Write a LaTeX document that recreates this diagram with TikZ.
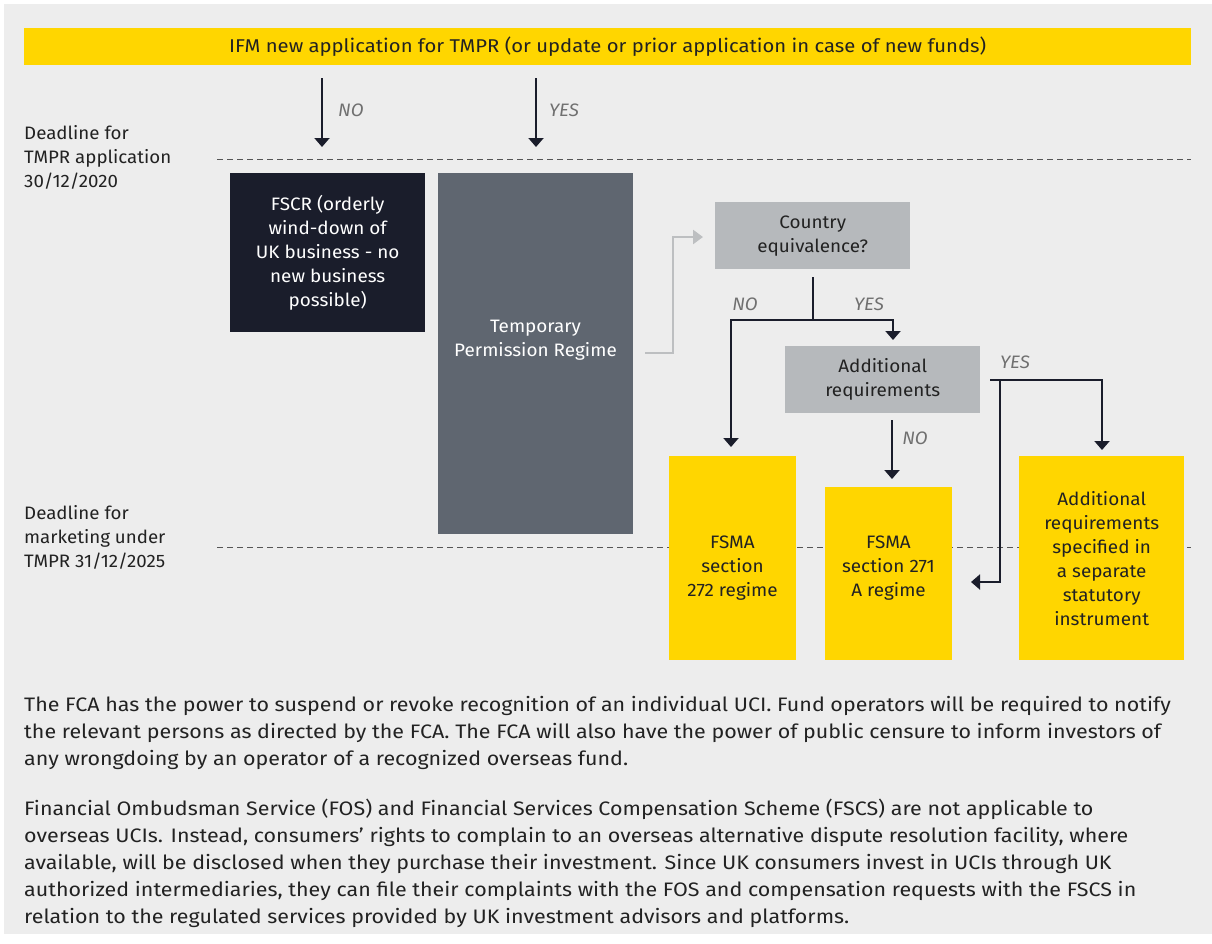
\documentclass[tikz,border=0pt]{standalone}
\usepackage{fontspec}
\setmainfont[FakeStretch=1.04]{Fira Sans}
\newfontfamily\parafont[FakeStretch=1.10]{Fira Sans}
\newfontfamily\topfont[FakeStretch=1.095]{Fira Sans}
\newfontfamily\boxfont[FakeStretch=1.05]{Fira Sans}
\usetikzlibrary{arrows.meta}
\definecolor{bgc}{HTML}{EDEDED}
\definecolor{eyyellow}{HTML}{FFD600}
\definecolor{navy}{HTML}{1A1D2B}
\definecolor{slate}{HTML}{5F6670}
\definecolor{lgray}{HTML}{B6B9BC}
\definecolor{conn}{HTML}{BDBFC1}
\definecolor{lbl}{HTML}{707070}
\definecolor{txt}{HTML}{222222}
\definecolor{dashc}{HTML}{555555}
\tikzset{
  box/.style={anchor=north west, inner sep=0pt, align=center, text=txt,
    font=\boxfont\fontsize{18}{24}\selectfont},
  btxt/.style={align=center, inner sep=0pt, font=\boxfont\fontsize{18}{24}\selectfont},
  arr/.style={draw=navy, line width=2pt, -{Triangle[length=9pt,width=15pt]}},
  garr/.style={draw=conn, line width=2.5pt, -{Triangle[length=10pt,width=14pt]}},
  ln/.style={draw=navy, line width=2pt},
  yn/.style={text=lbl, font=\fontsize{18}{22}\itshape\selectfont, inner sep=0pt},
  dline/.style={draw=dashc, line width=1pt, dash pattern=on 6pt off 4pt},
  side/.style={anchor=west, align=left, inner sep=0pt, text=txt, font=\fontsize{18}{24}\selectfont},
  para/.style={anchor=north west, align=left, inner sep=0pt, text=txt, font=\parafont\fontsize{19.5}{27}\selectfont},
}
\begin{document}
\begin{tikzpicture}[x=1pt,y=-1pt]
\useasboundingbox (0,0) rectangle (1212,943);
\fill[white] (0,0) rectangle (1212,943);
\fill[bgc] (4,4) rectangle (1212,934);

% dashed deadlines
\coordinate (d1a) at (217,159); \coordinate (d1b) at (1191,159);
\coordinate (d2a) at (217,547); \coordinate (d2b) at (1191,547);
\draw[dline] (d1a) -- (d1b);
\draw[dline] (d2a) -- (d2b);

% top bar
\node[box, fill=eyyellow, minimum width=1167pt, minimum height=37pt, font=\topfont\fontsize{18.5}{24}\selectfont] (top) at (24,28)
  {IFM new application for TMPR (or update or prior application in case of new funds)};

% side labels
\node[side] (dl1) at (24,157) {Deadline for\\TMPR application\\30/12/2020};
\node[side] (dl2) at (24,537) {Deadline for\\marketing under\\TMPR 31/12/2025};

% boxes
\node[box, fill=navy, text=white, minimum width=195pt, minimum height=159pt] (fscr) at (230,173)
  {FSCR (orderly\\wind-down of\\UK business - no\\new business\\possible)};
\node[box, fill=slate, minimum width=195pt, minimum height=361pt] (tpr) at (438,173) {};
\node[btxt, text=white] (tprt) at (535.5,340) {Temporary\\Permission Regime};
\node[box, fill=lgray, minimum width=195pt, minimum height=67pt] (ce) at (715,202)
  {Country\\equivalence?};
\node[box, fill=lgray, minimum width=195pt, minimum height=67pt] (ar) at (785,346)
  {Additional\\requirements};
\node[box, fill=eyyellow, minimum width=127pt, minimum height=204pt] (f272) at (669,456) {};
\node[btxt, text=txt] (f272t) at (732.5,568) {FSMA\\section\\272 regime};
\node[box, fill=eyyellow, minimum width=127pt, minimum height=173pt] (f271) at (825,487) {};
\node[btxt, text=txt] (f271t) at (888.5,568) {FSMA\\section 271\\A regime};
\node[box, fill=eyyellow, minimum width=165pt, minimum height=204pt] (asi) at (1019,456)
  {Additional\\requirements\\specified in\\a separate\\statutory\\instrument};

% connectors
\coordinate (n1s) at (322,78); \coordinate (n1e) at (322,147);
\coordinate (y1s) at (536,78); \coordinate (y1e) at (536,147);
\draw[arr] (n1s) -- (n1e);
\draw[arr] (y1s) -- (y1e);
\node[yn] (lno1) at (351,110) {NO};
\node[yn] (lyes1) at (564,110) {YES};

\coordinate (g1) at (645,353); \coordinate (g2) at (673,237); \coordinate (g3) at (703,237);
\draw[garr] (g1) -| (g2) -- (g3);

\coordinate (c1) at (813,277); \coordinate (c2) at (813,320);
\coordinate (c3) at (731,447); \coordinate (c4) at (893,340);
\draw[arr] (c1) -- (c2) -| (c3);
\draw[arr] (c2) -| (c4);
\node[yn] (lno2) at (745,304) {NO};
\node[yn] (lyes2) at (869,304) {YES};

\coordinate (a1) at (892,420); \coordinate (a2) at (892,479);
\draw[arr] (a1) -- (a2);
\node[yn] (lno3) at (915,438) {NO};

\coordinate (r1) at (990,380); \coordinate (r2) at (1102,450);
\coordinate (r3) at (1000,380); \coordinate (r4) at (1000,582); \coordinate (r5) at (971,582);
\draw[arr] (r1) -| (r2);
\draw[arr] (r3) -- (r4) -- (r5);
\node[yn] (lyes3) at (1015,362) {YES};

% paragraphs
\node[para] (p1) at (24,696) {The FCA has the power to suspend or revoke recognition of an individual UCI. Fund operators will be required to notify\\
the relevant persons as directed by the FCA. The FCA will also have the power of public censure to inform investors of\\
any wrongdoing by an operator of a recognized overseas fund.};
\node[para] (p2) at (24,799) {Financial Ombudsman Service (FOS) and Financial Services Compensation Scheme (FSCS) are not applicable to\\
overseas UCIs. Instead, consumers’ rights to complain to an overseas alternative dispute resolution facility, where\\
available, will be disclosed when they purchase their investment. Since UK consumers invest in UCIs through UK\\
authorized intermediaries, they can file their complaints with the FOS and compensation requests with the FSCS in\\
relation to the regulated services provided by UK investment advisors and platforms.};
\end{tikzpicture}
\end{document}
